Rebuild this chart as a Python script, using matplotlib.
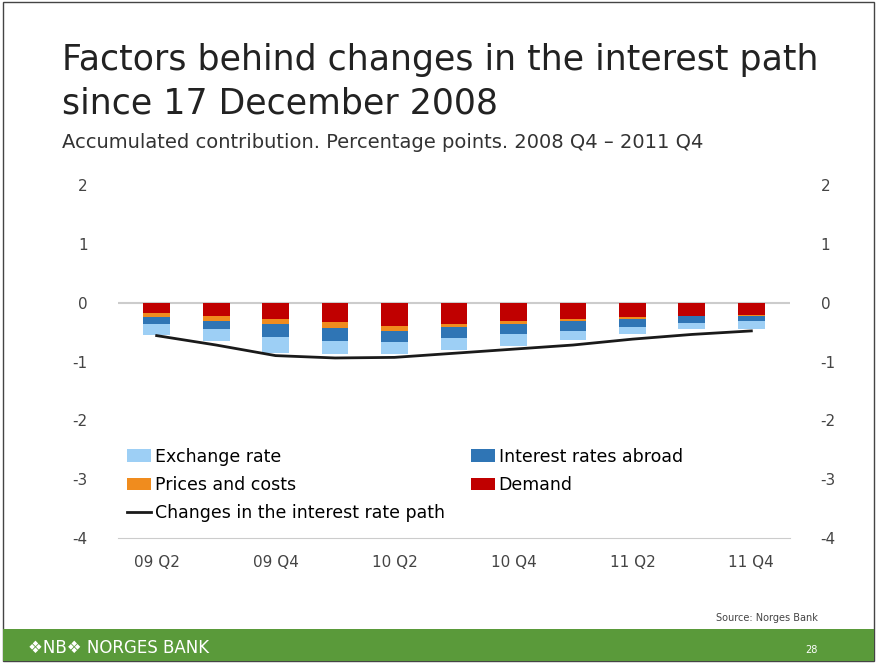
import matplotlib.pyplot as plt
import numpy as np
from matplotlib.patches import Rectangle

plt.rcParams['axes.unicode_minus'] = False

quarters = ['09 Q2', '09 Q3', '09 Q4', '10 Q1', '10 Q2', '10 Q3', '10 Q4', '11 Q1', '11 Q2', '11 Q3', '11 Q4']
demand = [-0.17, -0.22, -0.28, -0.33, -0.40, -0.36, -0.31, -0.27, -0.24, -0.22, -0.21]
prices = [-0.07, -0.09, -0.08, -0.10, -0.08, -0.06, -0.06, -0.04, -0.03, -0.01, -0.01]
abroad = [-0.13, -0.14, -0.22, -0.22, -0.19, -0.18, -0.17, -0.18, -0.15, -0.11, -0.10]
exchange = [-0.18, -0.20, -0.28, -0.23, -0.20, -0.21, -0.19, -0.15, -0.11, -0.10, -0.13]
path = [-0.56, -0.72, -0.90, -0.94, -0.93, -0.86, -0.79, -0.72, -0.62, -0.54, -0.48]

W, H = 877, 663
fig = plt.figure(figsize=(W / 100, H / 100), dpi=100)
fig.patches.append(Rectangle((0.003, 0.003), 0.994, 0.994, transform=fig.transFigure,
                             fill=False, edgecolor='#444444', lw=1))
fig.patches.append(Rectangle((0.003, 0.003), 0.994, 32 / H, transform=fig.transFigure,
                             facecolor='#5a9a3a', edgecolor='none'))

fig.text(62 / W, 1 - 60 / H, 'Factors behind changes in the interest path', fontsize=25, color='#222222', va='center')
fig.text(62 / W, 1 - 103 / H, 'since 17 December 2008', fontsize=25, color='#222222', va='center')
fig.text(62 / W, 1 - 142 / H, 'Accumulated contribution. Percentage points. 2008 Q4 \u2013 2011 Q4',
         fontsize=14, color='#333333', va='center')
fig.text(818 / W, 1 - 618 / H, 'Source: Norges Bank', fontsize=7, color='#444444', ha='right', va='center')
fig.text(28 / W, 1 - 648 / H, '\u2756NB\u2756 NORGES BANK', fontsize=12, color='white', va='center')
fig.text(818 / W, 1 - 650 / H, '28', fontsize=7, color='white', ha='right', va='center')

ax = fig.add_axes([118 / W, 1 - 538 / H, (790 - 118) / W, (538 - 185) / H])
x = np.arange(len(quarters))
w = 0.45
b = np.zeros(len(x))
for vals, col, lab in [(demand, '#c00000', 'Demand'), (prices, '#f08c1e', 'Prices and costs'),
                       (abroad, '#2f75b5', 'Interest rates abroad'), (exchange, '#9dcff5', 'Exchange rate')]:
    ax.bar(x, vals, w, bottom=b, color=col, label=lab, zorder=2)
    b += np.array(vals)
ax.plot(x, path, color='#1a1a1a', lw=2, label='Changes in the interest rate path', zorder=3)
ax.axhline(0, color='#cccccc', lw=1.5, zorder=1)

ax.set_xlim(-0.65, 10.65)
ax.set_ylim(-4, 2)
ax.set_yticks(range(-4, 3))
ax.set_xticks(x[::2])
ax.set_xticklabels(quarters[::2])
for s in ['top', 'right', 'left']:
    ax.spines[s].set_visible(False)
ax.spines['bottom'].set_color('#cccccc')
ax.tick_params(axis='both', length=0, labelsize=11, colors='#444444', pad=12)
ax.tick_params(axis='y', labelright=True, pad=22)

h, l = ax.get_legend_handles_labels()
order = [l.index(n) for n in ['Exchange rate', 'Prices and costs', 'Changes in the interest rate path',
                              'Interest rates abroad', 'Demand']]
ax.legend([h[i] for i in order], [l[i] for i in order], loc='lower left', ncol=2, frameon=False,
          fontsize=12.5, handlelength=1.4, handletextpad=0.2, columnspacing=1.5, labelspacing=0.6,
          bbox_to_anchor=(-0.01, 0.0))

fig.savefig('out.png', dpi=100)
